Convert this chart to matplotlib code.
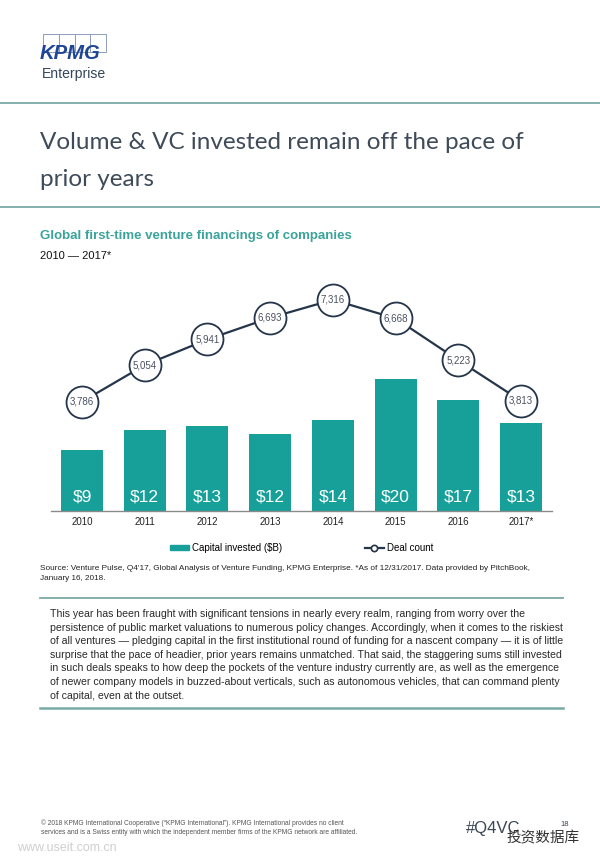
import matplotlib.pyplot as plt
from matplotlib.lines import Line2D
from matplotlib.patches import Patch, Rectangle

years = ['2010', '2011', '2012', '2013', '2014', '2015', '2016', '2017*']
capital_invested = [9.2, 12.1, 12.8, 11.6, 13.6, 19.8, 16.6, 13.2]
deal_count = [3786, 5054, 5941, 6693, 7316, 6668, 5223, 3813]

title_lines = ['Volume & VC invested remain off the pace of', 'prior years']
body_lines = [
    'This year has been fraught with significant tensions in nearly every realm, ranging from worry over the',
    'persistence of public market valuations to numerous policy changes. Accordingly, when it comes to the riskiest',
    'of all ventures \u2014 pledging capital in the first institutional round of funding for a nascent company \u2014 it is of little',
    'surprise that the pace of headier, prior years remains unmatched. That said, the staggering sums still invested',
    'in such deals speaks to how deep the pockets of the venture industry currently are, as well as the emergence',
    'of newer company models in buzzed-about verticals, such as autonomous vehicles, that can command plenty',
    'of capital, even at the outset.',
]

teal = '#17a09a'
navy = '#25354a'
rule = '#79a9a6'
W, H = 600, 866

plt.rcParams['font.family'] = ['Liberation Sans', 'DejaVu Sans']

fig = plt.figure(figsize=(6, 8.66), dpi=100)
renderer = fig.canvas.get_renderer()


def fx(px):
    return px / W


def fy(py):
    return 1 - py / H


def fit(t, width):
    # scale font so the text spans the width seen in the reference
    w = t.get_window_extent(renderer=renderer).width
    t.set_fontsize(t.get_fontsize() * width / w)
    return t


# logo
for i in range(4):
    fig.add_artist(Rectangle((fx(43 + 15.75 * i), fy(52)), 15.75 / W, 18 / H,
                             transform=fig.transFigure, fill=False, ec='#8d9dbb', lw=0.7))
fit(fig.text(fx(40), fy(59), 'KPMG', fontsize=14, weight='bold', style='italic',
             color='#1e4596', va='baseline'), 61)
fit(fig.text(fx(42), fy(78), 'Enterprise', fontsize=10, color='#33475b', va='baseline'), 64)

# rules
for y in [103, 207]:
    fig.add_artist(Line2D([0, 1], [fy(y), fy(y)], transform=fig.transFigure, color=rule, lw=1.3))

t1 = fit(fig.text(fx(40), fy(149), title_lines[0], fontsize=20, family=['Lato', 'DejaVu Sans'],
                  color='#3f4b59', va='baseline'), 485)
fig.text(fx(40), fy(186), title_lines[1], fontsize=t1.get_fontsize(), family=['Lato', 'DejaVu Sans'],
         color='#3f4b59', va='baseline')

fit(fig.text(fx(40), fy(236), 'Global first-time venture financings of companies', fontsize=9,
             weight='bold', color='#3aa39a', va='center'), 312)
fig.text(fx(40), fy(256), '2010 \u2014 2017*', fontsize=8, color='#111111', va='center')

# chart
ax = fig.add_axes([fx(50.7), fy(511), (552.4 - 50.7) / W, 231 / H])
x = range(len(years))
ax.bar(x, capital_invested, width=0.67, color=teal, zorder=2)
for i, v in enumerate(capital_invested):
    ax.annotate(f'${v:.0f}', xy=(i, 0), xytext=(0, 10), textcoords='offset points',
                ha='center', va='center', color='white', fontsize=12.5)
ax.set_xlim(-0.5, 7.5)
ax.set_ylim(0, 34.7)
ax.set_xticks(list(x))
ax.set_xticklabels(years, fontsize=7, color='#222222')
ax.tick_params(axis='x', length=0, pad=4)
ax.set_yticks([])
for s in ['top', 'left', 'right']:
    ax.spines[s].set_visible(False)
ax.spines['bottom'].set_color('#8a8a8a')
ax.spines['bottom'].set_linewidth(1)
ax.set_facecolor('none')

ax2 = ax.twinx()
ax2.plot(x, deal_count, color=navy, lw=1.6, marker='o', markersize=23,
         markerfacecolor='white', markeredgecolor=navy, markeredgewidth=1.3, zorder=3)
for i, d in enumerate(deal_count):
    ax2.text(i, d, f'{d:,}', ha='center', va='center', fontsize=7, color='#4a5260', zorder=4)
ax2.set_ylim(0, 8000)
ax2.set_yticks([])
for s in ['top', 'left', 'right', 'bottom']:
    ax2.spines[s].set_visible(False)

handles = [Patch(color=teal),
           Line2D([], [], color=navy, lw=1.6, marker='o', markersize=4.5,
                  markerfacecolor='white', markeredgewidth=1.2)]
ax.legend(handles, ['Capital invested ($B)', 'Deal count'], loc='center',
          bbox_to_anchor=(0.5, -37 / 231), ncol=2, frameon=False, fontsize=7,
          handlelength=2.0, handleheight=0.55, handletextpad=0.3, columnspacing=8.5)

# source
fit(fig.text(fx(40), fy(569), "Source: Venture Pulse, Q4'17, Global Analysis of Venture Funding, KPMG Enterprise. "
             "*As of 12/31/2017. Data provided by PitchBook,", fontsize=6, color='#222222', va='center'), 494)
fig.text(fx(40), fy(579), 'January 16, 2018.', fontsize=5.9, color='#222222', va='center')

fig.add_artist(Line2D([fx(40), fx(563)], [fy(598), fy(598)], transform=fig.transFigure, color=rule, lw=1.3))
body_size = fit(fig.text(0, 0, body_lines[1], fontsize=7), 513).get_fontsize()
fig.texts.pop()
for k, line in enumerate(body_lines):
    fig.text(fx(50), fy(614 + 13.6 * k), line, fontsize=body_size, color='#2a2a2a', va='center')
fig.add_artist(Line2D([fx(40), fx(563)], [fy(708), fy(708)], transform=fig.transFigure, color=rule, lw=1.8))

# footer
c2 = fit(fig.text(fx(41), fy(832), 'services and is a Swiss entity with which the independent member firms '
                  'of the KPMG network are affiliated.', fontsize=4.4, color='#555555', va='center'), 317)
fig.text(fx(41), fy(823), '\u00a9 2018 KPMG International Cooperative (\u201cKPMG International\u201d). '
         'KPMG International provides no client', fontsize=c2.get_fontsize(), color='#555555', va='center')
fig.text(fx(17), fy(848), 'www.useit.com.cn', fontsize=9, color='#cfcfcf', va='center')
fig.text(fx(466), fy(828), '#Q4VC', fontsize=12, color='#3a4654', va='center')
fig.text(fx(560), fy(824), '18', fontsize=5.5, color='#3a4654', va='center')
fig.text(fx(507), fy(838), '\u6295\u8d44\u6570\u636e\u5e93', fontsize=10.5,
         family=['Noto Sans CJK SC', 'DejaVu Sans'], color='#333333', va='center')

fig.savefig('out.png', dpi=100, facecolor='white')
